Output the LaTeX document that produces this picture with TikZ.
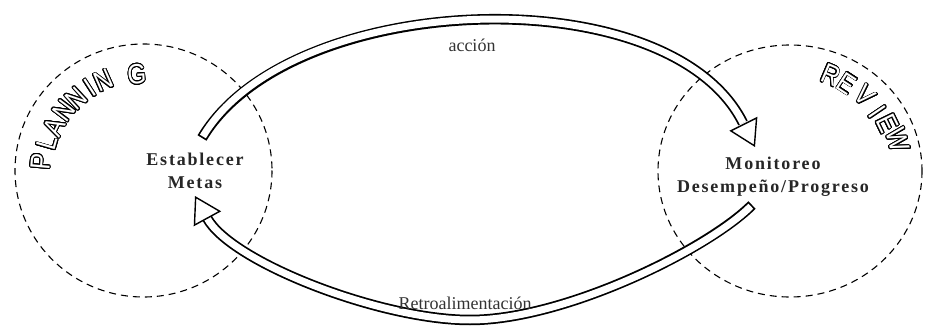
\documentclass[tikz,border=0pt]{standalone}
\usepackage{graphicx}
\usepackage{fontspec}
\setmainfont{Liberation Serif}
\newfontfamily\labelfont{Liberation Serif}[LetterSpace=10]
\newfontfamily\stampfont{Liberation Sans}
\usepackage[copies]{contour}
\contourlength{0.9pt}
\contournumber{24}
\usetikzlibrary{arrows.meta}

\newcommand{\hollow}[1]{\scalebox{0.86}[1]{\contour{black}{#1}}}

\tikzset{
  zone/.style={draw, dash pattern=on 7pt off 5pt, line width=1.1pt},
  stage/.style={font=\labelfont\bfseries\fontsize{18}{23}\selectfont, align=center, text=black!85},
  flowtext/.style={font=\fontsize{18}{22}\selectfont, text=black!80},
  bandout/.style={line width=10.5pt, black, line cap=butt},
  bandin/.style={line width=7pt, white, line cap=butt, shorten <=1.75pt},
  bandtip/.style={line width=7pt, white,
    -{Triangle[length=26pt, width=31pt, color=black, fill=white, line width=1.4pt]}},
  stamp/.style={font=\stampfont\fontsize{28}{28}\selectfont, text=white, inner sep=0pt},
}

\begin{document}
\begin{tikzpicture}[x=1pt, y=-1pt]
    \useasboundingbox (0,0) rectangle (926,331);

    % Planning and review zones
    \coordinate (cPlan) at (143.5,170.5);
    \coordinate (cRev) at (790,171);
    \draw[zone] (cPlan) ellipse [x radius=128.5, y radius=126.5];
    \draw[zone] (cRev) ellipse [x radius=132, y radius=126];

    % Outlined titles along the zones
    \foreach \ch/\a/\r in {P/175/103, L/164/100, A/154/99, N/143/99, N/133/98, I/123/98, N/114/98, G/94/96}
        \node[stamp, rotate=\a-90] at ([shift={(-\a:\r)}]cPlan) {\hollow{\ch}};
    \foreach \ch/\a/\r in {R/67/104, E/57/104, V/45/106, I/34/105, E/26/108, W/16/112}
        \node[stamp, rotate=\a-90] at ([shift={(-\a:\r)}]cRev) {\hollow{\ch}};

    % Stages
    \node[stage] (metas) at (195,171) {Establecer\\Metas};
    \node[stage] (monitoreo) at (773,177) {Monitoreo\\Desempeño/Progreso};

    % Action arrow
    \coordinate (accTail) at (202,138);
    \coordinate (accBase) at (743,123);
    \coordinate (accTip) at (755,147);
    \draw[bandout] (accTail) .. controls (290,-10) and (669,-25) .. (accBase);
    \draw[bandin] (accTail) .. controls (290,-10) and (669,-25) .. (accBase);
    \draw[bandtip] (accBase) -- (accTip);
    \node[flowtext] (accion) at (472,45) {acción};

    % Feedback arrow
    \coordinate (retTail) at (752,205);
    \coordinate (retLow) at (470,320);
    \coordinate (retBase) at (207,218);
    \coordinate (retTip) at (195,196);
    \draw[bandout] (retTail) .. controls (708,249) and (565,320) .. (retLow)
        .. controls (380,320) and (231,262) .. (retBase);
    \draw[bandin] (retTail) .. controls (708,249) and (565,320) .. (retLow)
        .. controls (380,320) and (231,262) .. (retBase);
    \draw[bandtip] (retBase) -- (retTip);
    \node[flowtext] (retro) at (465,303) {Retroalimentación};
\end{tikzpicture}
\end{document}
